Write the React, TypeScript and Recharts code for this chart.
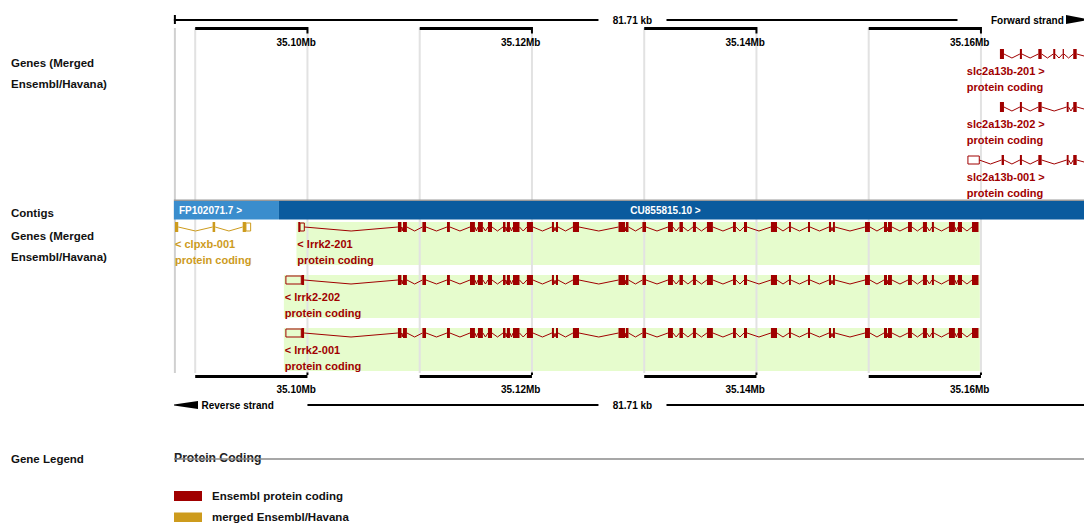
import React from 'react';
import { ComposedChart, XAxis, YAxis, ReferenceArea, ReferenceLine, ReferenceDot } from 'recharts';

// Genomic window in kb; x axis maps 35.10 Mb onto px 307.5, 11.225 px per kb
const DOMAIN: [number, number] = [35072.61, 35169.18];
const VIEW_START = 35088.1;
const VIEW_END = 35169.81;
const REGION_LABEL = '81.71 kb';

const MB_TICKS = [35100, 35120, 35140, 35160];
const MB_LABELS = ['35.10Mb', '35.12Mb', '35.14Mb', '35.16Mb'];
const GRID_KB = [35090, 35100, 35110, 35120, 35130, 35140, 35150, 35160];

const CONTIG_NAMES = ['FP102071.7 >', 'CU855815.10 >'];
const CONTIG_SPANS: [number, number][] = [[35088.1, 35097.46], [35097.46, 35169.18]];
const CONTIG_LABEL_AT = [35088.55, 35131.9];

// exon coordinates are kb past 35.10 Mb
const BASE = 35100;

const LRRK2_CODING: [number, number][] = [
  [8.06, 8.37], [8.51, 8.86], [10.24, 10.56], [12.43, 12.69], [14.48, 14.92], [15.19, 15.63],
  [16.08, 16.44], [17.42, 17.64], [17.77, 18.04], [18.31, 18.89], [19.55, 20.09], [21.78, 21.96],
  [22.14, 22.32], [23.65, 24.19], [27.71, 28.29], [28.37, 28.6], [29.84, 30.16], [32.12, 32.56],
  [33.14, 33.45], [34.34, 34.61], [35.59, 36.12], [37.91, 38.17], [38.89, 39.16], [41.29, 41.83],
  [42.9, 43.07], [44.59, 44.77], [46.46, 46.64], [46.82, 46.99], [49.67, 50.11], [51.36, 51.63],
  [51.72, 52.07], [53.5, 53.85], [54.83, 55.19], [55.63, 55.81], [57.15, 57.68], [57.95, 58.31],
  [59.2, 59.78],
];

type Tx = {
  name: string;
  gene: string;
  strand: 1 | -1;
  source: 'ensembl' | 'merged';
  biotype: string;
  from: number;
  coding: [number, number][];
  utr: [number, number][];
  continues?: boolean;
};

const TRANSCRIPTS: Tx[] = [
  {
    name: 'slc2a13b-201', gene: 'slc2a13b', strand: 1, source: 'ensembl', biotype: 'protein coding', from: 58.66,
    coding: [[61.69, 62.05], [63.47, 63.65], [65.11, 65.41], [66.44, 66.62], [67.28, 67.39], [68.22, 68.53]],
    utr: [], continues: true,
  },
  {
    name: 'slc2a13b-202', gene: 'slc2a13b', strand: 1, source: 'ensembl', biotype: 'protein coding', from: 58.66,
    coding: [[61.69, 62.05], [63.47, 63.65], [65.11, 65.41], [67.64, 67.81], [68.22, 68.53]],
    utr: [], continues: true,
  },
  {
    name: 'slc2a13b-001', gene: 'slc2a13b', strand: 1, source: 'ensembl', biotype: 'protein coding', from: 58.66,
    coding: [[61.84, 62.05], [63.47, 63.65], [65.11, 65.41], [67.64, 67.81], [68.22, 68.53]],
    utr: [[58.84, 59.85]], continues: true,
  },
  {
    name: 'clpxb-001', gene: 'clpxb', strand: -1, source: 'merged', biotype: 'protein coding', from: -11.88,
    coding: [[-11.8, -11.51], [-8.45, -8.22], [-5.77, -5.48]],
    utr: [[-5.48, -5.06]],
  },
  {
    name: 'lrrk2-201', gene: 'lrrk2', strand: -1, source: 'ensembl', biotype: 'protein coding', from: -0.98,
    coding: [[-0.82, -0.66], ...LRRK2_CODING],
    utr: [[-0.66, -0.28]],
  },
  {
    name: 'lrrk2-202', gene: 'lrrk2', strand: -1, source: 'ensembl', biotype: 'protein coding', from: -2.1,
    coding: [[-0.55, -0.3], ...LRRK2_CODING],
    utr: [[-1.92, -0.55]],
  },
  {
    name: 'lrrk2-001', gene: 'lrrk2', strand: -1, source: 'ensembl', biotype: 'protein coding', from: -2.1,
    coding: [[-0.55, -0.3], ...LRRK2_CODING],
    utr: [[-1.92, -0.55]],
  },
];

const FOCUS_GENE = 'lrrk2';

// row tops in the track panel
const ROW_TOP: Record<string, number> = {
  'slc2a13b-201': 49,
  'slc2a13b-202': 102,
  'slc2a13b-001': 155,
  'clpxb-001': 222,
  'lrrk2-201': 222,
  'lrrk2-202': 275,
  'lrrk2-001': 328,
};

const TRACK_NAMES = [
  { lines: ['Genes (Merged', 'Ensembl/Havana)'], y: 67 },
  { lines: ['Contigs'], y: 217 },
  { lines: ['Genes (Merged', 'Ensembl/Havana)'], y: 240 },
  { lines: ['Gene Legend'], y: 463 },
];
const LEGEND_TITLE = 'Protein Coding';
const LEGEND_ITEMS = ['Ensembl protein coding', 'merged Ensembl/Havana'];

const RED = '#a00000';
const GOLD = '#cd9b1d';
const GREEN = '#e6fccd';
const GRID = '#e2e2e2';
const FONT = '"Liberation Sans", Arial, Helvetica, sans-serif';

const W = 1084;
const H = 523;

const textAt = (
  key: string, x: number, y: number, value: string,
  o: { size?: number; fill?: string; anchor?: 'start' | 'middle' | 'end'; dx?: number } = {},
) => (
  <ReferenceDot
    key={key} x={x} y={y} r={0} ifOverflow="visible" zIndex={90}
    shape={(p: any) => (
      <text
        x={p.cx + (o.dx ?? 0)} y={p.cy} textAnchor={o.anchor ?? 'start'}
        fontFamily={FONT} fontWeight="bold" fontSize={o.size ?? 11} fill={o.fill ?? '#000'}
      >
        {value}
      </text>
    )}
  />
);

const seg = (key: string, x1: number, y1: number, x2: number, y2: number, stroke: string, w = 1, z = 60) => (
  <ReferenceLine
    key={key} segment={[{ x: x1, y: y1 }, { x: x2, y: y2 }]}
    stroke={stroke} strokeWidth={w} ifOverflow="visible" zIndex={z}
  />
);

const box = (key: string, x1: number, x2: number, y1: number, y2: number, fill: string, z = 50, stroke?: string) => (
  <ReferenceArea
    key={key} x1={x1} x2={x2} y1={y1} y2={y2}
    fill={fill} fillOpacity={1} stroke={stroke ?? 'none'} strokeWidth={1} ifOverflow="visible" zIndex={z}
  />
);

function transcriptMarks(tx: Tx) {
  const top = ROW_TOP[tx.name];
  const mid = top + 5;
  const dip = top + 9;
  const color = tx.source === 'merged' ? GOLD : RED;
  const blocks = [
    ...tx.coding.map((b) => ({ b, coding: true })),
    ...tx.utr.map((b) => ({ b, coding: false })),
  ].sort((a, c) => a.b[0] - c.b[0]);
  const out: React.ReactNode[] = [];
  const first = blocks[0].b[0];
  const last = blocks[blocks.length - 1].b[1];

  if (tx.gene === FOCUS_GENE) {
    out.push(box(`${tx.name}-bg`, BASE + tx.from, BASE + last + 0.12, top, top + 43, GREEN, 10));
  }

  // introns: a shallow V between neighbouring blocks
  for (let i = 1; i < blocks.length; i++) {
    const a = BASE + blocks[i - 1].b[1];
    const c = BASE + blocks[i].b[0];
    if (c - a < 0.05) continue;
    const m = (a + c) / 2;
    out.push(seg(`${tx.name}-i${i}a`, a, mid, m, dip, color));
    out.push(seg(`${tx.name}-i${i}b`, m, dip, c, mid, color));
  }
  if (tx.continues) {
    out.push(seg(`${tx.name}-tail`, BASE + last, mid, DOMAIN[1], mid + 2, color));
  }

  blocks.forEach(({ b, coding }, i) => {
    if (coding) {
      out.push(box(`${tx.name}-e${i}`, BASE + b[0], BASE + b[1], top, top + 10, color, 70));
    } else {
      out.push(box(`${tx.name}-u${i}`, BASE + b[0], BASE + b[1], top + 1, top + 9, 'none', 70, color));
    }
  });

  const tag = tx.strand === 1 ? `${tx.name} >` : `< ${tx.name}`;
  const lx = BASE + Math.min(tx.from, first) + 0.08;
  out.push(textAt(`${tx.name}-l1`, lx, top + 26, tag, { fill: color }));
  out.push(textAt(`${tx.name}-l2`, lx, top + 41.5, tx.biotype, { fill: color }));
  return out;
}

function rulerMarks(pos: 'top' | 'bottom') {
  const barY = pos === 'top' ? 27 : 375;
  const tickY = pos === 'top' ? 33.5 : 372.5;
  const labelY = pos === 'top' ? 46 : 393;
  const out: React.ReactNode[] = [];
  GRID_KB.forEach((g, i) => {
    if (i % 2 === 0) {
      const end = GRID_KB[i + 1];
      out.push(box(`${pos}-bar${i}`, g, end, barY, barY + 3, '#000', 80));
      out.push(seg(`${pos}-tick${i}`, end, barY, end, tickY, '#000', 2, 80));
    }
  });
  MB_TICKS.forEach((t, i) => {
    out.push(textAt(`${pos}-lab${i}`, t, labelY, MB_LABELS[i], { size: 10, anchor: 'end', dx: 8.5 }));
  });
  return out;
}

const centre = (VIEW_START + VIEW_END) / 2;
const GAP = 3.03;

export default function App() {
  return (
    <div style={{ position: 'absolute', left: 0, top: 0, width: W, height: H, background: '#fff' }}>
      <ComposedChart width={W} height={H} margin={{ top: 0, right: 0, bottom: 0, left: 0 }}>
        <XAxis type="number" dataKey="x" domain={DOMAIN} allowDataOverflow hide />
        <YAxis type="number" dataKey="y" domain={[0, H]} reversed allowDataOverflow hide />

        {/* 10 kb grid and panel edge */}
        {GRID_KB.map((g) => seg(`grid-${g}`, g, 28, g, 373, GRID, 2, 20))}
        {seg('edge', VIEW_START + 0.09, 28, VIEW_START + 0.09, 373, '#d0d0d0', 2, 20)}

        {/* top ruler */}
        {seg('top-end', VIEW_START + 0.09, 15, VIEW_START + 0.09, 24, '#000', 2, 80)}
        {seg('top-l', VIEW_START, 20, centre - GAP, 20, '#000', 2, 80)}
        {seg('top-r', centre + GAP, 20, VIEW_END - 11.9, 20, '#000', 2, 80)}
        {textAt('top-len', centre, 23.5, REGION_LABEL, { size: 10, anchor: 'middle' })}
        {rulerMarks('top')}

        {/* contigs */}
        {box('contig-rule', VIEW_START, DOMAIN[1], 199.5, 201, '#999', 40)}
        {CONTIG_SPANS.map(([a, b], i) => box(`contig-${i}`, a, b, 201, 219.5, i === 0 ? '#3a8dcd' : '#0a5b9e', 40))}
        {CONTIG_NAMES.map((n, i) =>
          textAt(`contig-l${i}`, CONTIG_LABEL_AT[i], 214, n, { size: 10, fill: '#fff', anchor: i === 0 ? 'start' : 'middle' }),
        )}

        {TRANSCRIPTS.map((tx) => transcriptMarks(tx))}

        {/* bottom ruler */}
        {rulerMarks('bottom')}
        {seg('bot-l', VIEW_START + 11.9, 405, centre - GAP, 405, '#000', 2, 80)}
        {seg('bot-r', centre + GAP, 405, VIEW_END, 405, '#000', 2, 80)}
        {textAt('bot-len', centre, 409, REGION_LABEL, { size: 10, anchor: 'middle' })}
      </ComposedChart>

      <svg
        width={W} height={H}
        style={{ position: 'absolute', left: 0, top: 0, pointerEvents: 'none' }}
        fontFamily={FONT} fontWeight="bold"
      >
        {TRACK_NAMES.map((t, i) =>
          t.lines.map((l, j) => (
            <text key={`${i}-${j}`} x={11} y={t.y + j * 21} fontSize={11.5} fill="#111">{l}</text>
          )),
        )}

        {/* strand markers */}
        <text x={991} y={23.5} fontSize={10} fill="#000">Forward strand</text>
        <polygon points="1066,15 1090,19.5 1066,24" fill="#000" />
        <polygon points="174,404.5 198,401 198,409 174,405.5" fill="#000" />
        <text x={201.5} y={408.5} fontSize={10} fill="#000">Reverse strand</text>

        {/* gene legend */}
        <text x={174} y={462} fontSize={12.2} fill="#222">{LEGEND_TITLE}</text>
        <line x1={174} x2={W} y1={459} y2={459} stroke="#8a8a8a" strokeWidth={1.5} />
        <rect x={174} y={491} width={28} height={10} fill={RED} />
        <text x={212} y={499.5} fontSize={11.5} fill="#111">{LEGEND_ITEMS[0]}</text>
        <rect x={174} y={512.5} width={28} height={9.5} fill={GOLD} />
        <text x={212} y={521} fontSize={11.5} fill="#111">{LEGEND_ITEMS[1]}</text>
      </svg>
    </div>
  );
}
